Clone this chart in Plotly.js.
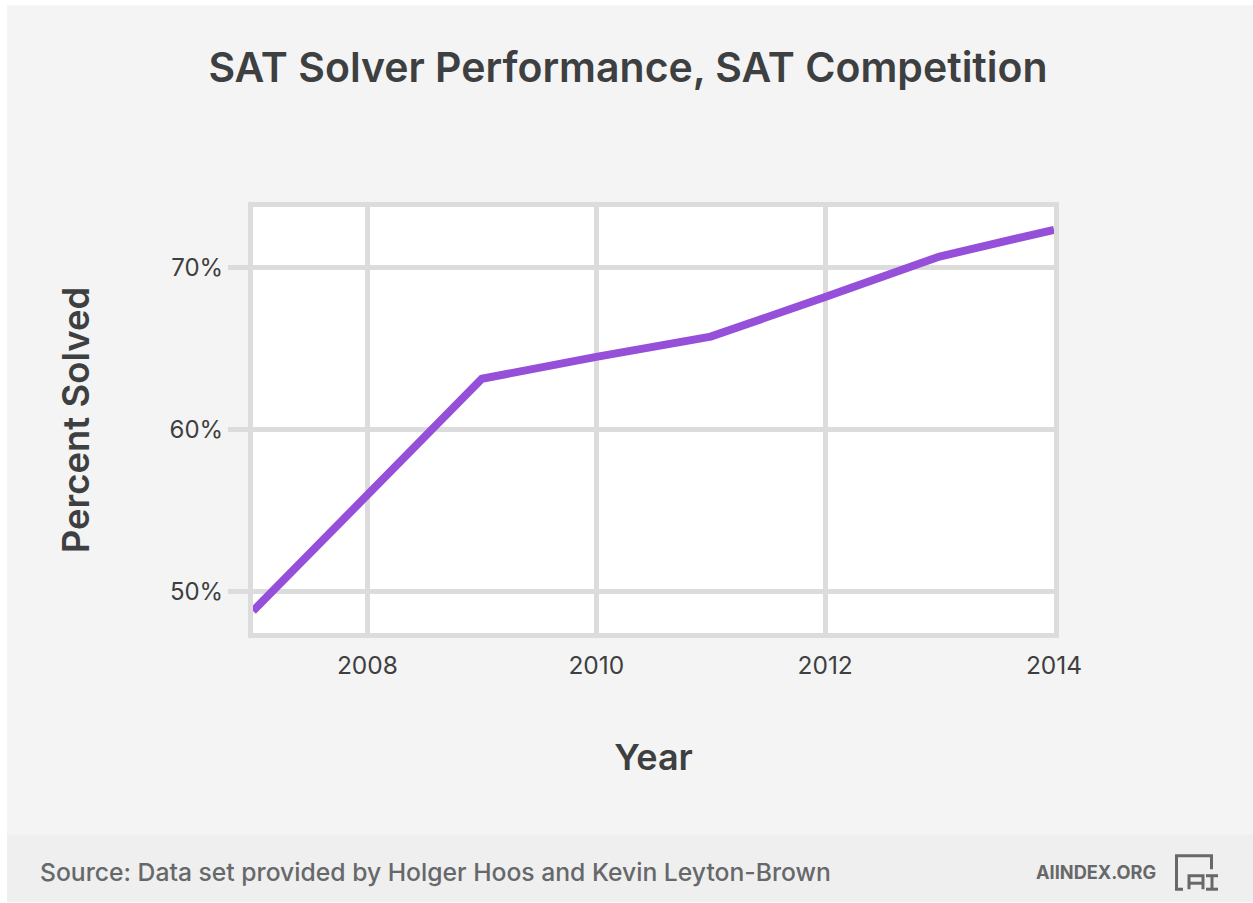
<!DOCTYPE html>
<html><head><meta charset="utf-8"><script src="https://cdn.plot.ly/plotly-3.0.1.min.js"></script>
<style>html,body{margin:0;padding:0;background:#fff}</style></head><body><div id="c" style="width:1253px;height:903px"></div>
<script>
const years=[2007,2008,2009,2010,2011,2012,2013,2014];
const solved=[48.8,56,63.15,64.5,65.75,68.2,70.7,72.35];
const xTicks=[2008,2010,2012,2014];
const yTicks=[50,60,70];
const W=1253,H=903,L=253,R=1054,T=207,B=633.5;
const px=x=>(x-L)/(R-L), py=y=>(B-y)/(B-T);
const FONT='Inter, sans-serif';
const INK='#3d3f41', GRID='#dcdcdc', LOGO='#666869';
const rect=(x0,y0,x1,y1,c)=>({type:'rect',xref:'paper',yref:'paper',layer:'below',x0:px(x0),x1:px(x1),y0:py(y0),y1:py(y1),fillcolor:c,line:{width:0}});
const note=(x,y,t,size,col,weight)=>({xref:'paper',yref:'paper',x:px(x),y:py(y),text:t,showarrow:false,xanchor:'left',yanchor:'middle',font:{family:FONT,size:size,color:col,weight:weight}});
const logoPath=(pts)=>({type:'path',xref:'paper',yref:'paper',path:pts.map((p,i)=>(i?'L':'M')+px(p[0])+','+py(p[1])).join(' '),line:{color:LOGO,width:3}});
Plotly.newPlot('c',[{x:years,y:solved,mode:'lines',line:{color:'#954fd9',width:8},hoverinfo:'skip'}],{
 width:W,height:H,margin:{l:L,r:W-R,t:T,b:H-B,pad:0},
 paper_bgcolor:'#ffffff',plot_bgcolor:'#ffffff',showlegend:false,
 font:{family:FONT,color:INK},
 title:{text:'SAT Solver Performance, SAT Competition',x:628/W,xanchor:'center',y:1-68/H,yanchor:'middle',font:{family:FONT,size:41,color:INK,weight:600}},
 xaxis:{range:[2007,2014],tickvals:xTicks,ticktext:xTicks.map(String),ticks:'',showline:true,mirror:true,linecolor:GRID,linewidth:5,gridcolor:GRID,gridwidth:5,zeroline:false,tickfont:{size:24.5,color:INK},ticklabelstandoff:7,
  title:{text:'Year',font:{size:36,color:INK,weight:600},standoff:67}},
 yaxis:{range:[47.44,73.76],tickvals:yTicks,ticktext:yTicks.map(v=>v+'%'),ticks:'outside',ticklen:20,tickwidth:5,tickcolor:GRID,showline:true,mirror:true,linecolor:GRID,linewidth:5,gridcolor:GRID,gridwidth:5,zeroline:false,tickfont:{size:24,color:INK},
  title:{text:'Percent Solved',font:{size:36.5,color:INK,weight:600},standoff:70}},
 shapes:[rect(7,5,W,835,'#f4f4f4'),rect(7,835,W,H,'#efefef'),rect(L,T,R,B,'#ffffff'),
  logoPath([[1183,890],[1176.5,890],[1176.5,856.5],[1211.5,856.5],[1211.5,870]]),
  logoPath([[1189,890],[1189,876.5],[1203,876.5],[1203,890]]),
  logoPath([[1189,884],[1203,884]]),
  logoPath([[1206,876.5],[1218,876.5]]),logoPath([[1212,876.5],[1212,890]]),logoPath([[1206,890],[1218,890]])],
 annotations:[note(37.5,873,'Source: Data set provided by Holger Hoos and Kevin Leyton-Brown',24.7,'#66686a',500),
  note(1034,873,'AIINDEX.ORG',18.2,LOGO,700)]
},{staticPlot:true,displayModeBar:false});
</script></body></html>
